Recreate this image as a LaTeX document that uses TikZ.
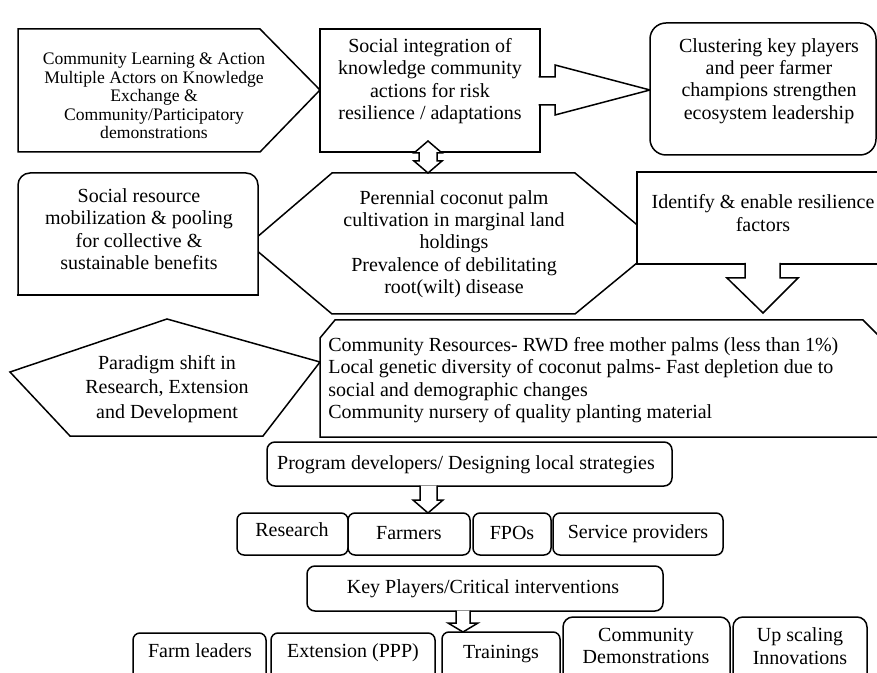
\documentclass[tikz,border=0pt]{standalone}
\usepackage{fontspec}
\setmainfont{Liberation Serif}
\usepackage{tikz}
\usetikzlibrary{calc}
\newcommand{\figtxt}{\fontsize{10}{11.2}\selectfont}
\newcommand{\figsml}{\fontsize{8.8}{9.2}\selectfont}
\tikzset{
  shp/.style ={draw, line width=0.75pt, fill=white, line join=miter},
  rbx/.style ={shp, rounded corners=4pt},
  blk/.style ={draw, line width=0.75pt, fill=white, line join=miter},
  txt/.style ={font=\figtxt, align=center, inner sep=0pt},
  one/.style ={font=\figtxt, inner sep=0pt, text height=7pt, text depth=2pt},
  txs/.style ={font=\figsml, align=center, inner sep=0pt},
}

\begin{document}
\begin{tikzpicture}[x=0.5pt, y=-0.5pt]
\useasboundingbox (0,0) rectangle (877,673);
\clip (0,0) rectangle (877,673);

% ---- top row --------------------------------------------------------
\draw[shp] (18,29) -- (260,29) -- (320,90) -- (260,152) -- (18,152) -- cycle;
\node[txs] (learn) at (154,96) {Community Learning \& Action\\Multiple Actors on Knowledge\\
  Exchange \&\\Community/Participatory\\demonstrations};

\draw[shp] (320,29) rectangle (540,152);
\node[txt] (integ) at (430,81) {Social integration of\\knowledge community\\
  actions for risk\\resilience / adaptations};
\draw[blk] (538.5,77) -- (555,77) -- (555,65) -- (650,90) -- (555,115) -- (555,105) -- (538.5,105);

\draw[rbx, rounded corners=8pt] (650,23) rectangle (876,155);
\node[txt] (clust) at (769,81) {Clustering key players\\and peer farmer\\
  champions strengthen\\ecosystem leadership};

% ---- middle row -----------------------------------------------------
\draw[shp] (249,244) -- (332,173) -- (575,173) -- (660,244) -- (575,314) -- (332,314) -- cycle;
\node[txt] (peren) at (454,244) {Perennial coconut palm\\cultivation in marginal land\\
  holdings\\Prevalence of debilitating\\root(wilt) disease};

\draw[shp, rounded corners=6pt] (18,295) -- (18,173) -- (258,173) -- (258,295);
\draw[line width=0.75pt, line cap=rect] (18,295) -- (258,295);
\node[txt] (socres) at (139,229) {Social resource\\mobilization \& pooling\\
  for collective \&\\sustainable benefits};

\draw[shp] (637,172) rectangle (890,264);
\node[txt] (ident) at (763,213) {Identify \& enable resilience\\factors};
\draw[blk] (745,263) -- (745,278) -- (727,278) -- (763,313) -- (798,278) -- (780,278) -- (780,263);

% up/down link between the two central boxes
\draw[blk] (428,141) -- (442,153) -- (437,153) -- (437,161) -- (442,161) -- (428,173)
  -- (414,161) -- (419,161) -- (419,153) -- (414,153) -- cycle;

% ---- resources and paradigm -----------------------------------------
\draw[shp] (167,319) -- (320,362) -- (263,436) -- (70,436) -- (10,372) -- cycle;
\node[txt] (parad) at (167,389) {Paradigm shift in\\[1pt]Research, Extension\\[1pt]and Development};

\draw[shp] (320,437) -- (320,338) -- (335,320) -- (863,320) -- (880,337) -- (880,437) -- cycle;
\node[txt, align=left, anchor=west] (commres) at (328,380)
  {Community Resources- RWD free mother palms (less than 1\%)\\
   Local genetic diversity of coconut palms- Fast depletion due to\\
   social and demographic changes\\
   Community nursery of quality planting material};

% ---- programme layer ------------------------------------------------
\draw[rbx] (267,442) rectangle (672,486);
\node[one] (prog) at (466,464) {Program developers/ Designing local strategies};

\draw[rbx, rounded corners=3.5pt] (237,513) rectangle (348,555);
\draw[rbx, rounded corners=3.5pt] (348,513) rectangle (470,555);
\draw[rbx, rounded corners=3.5pt] (473,513) rectangle (551,555);
\draw[rbx, rounded corners=3.5pt] (553,513) rectangle (723,555);
\node[one] (research) at (292,531) {Research};
\node[one] (farmers)  at (409,534) {Farmers};
\node[one] (fpos)     at (512,534) {FPOs};
\node[one] (servp)    at (638,533) {Service providers};
\draw[blk] (420,485.5) -- (420,500) -- (413,500) -- (428,513) -- (443,500) -- (437,500) -- (437,485.5);

% ---- key players layer ----------------------------------------------
\draw[rbx] (307,566) rectangle (663,611);
\node[one] (keyp) at (483,588) {Key Players/Critical interventions};

\draw[rbx, rounded corners=3.5pt] (133,633) rectangle (266,690);
\draw[rbx, rounded corners=3.5pt] (271,633) rectangle (435,690);
\draw[rbx, rounded corners=3.5pt] (442,632) rectangle (560,690);
\draw[rbx, rounded corners=5pt]   (563,617) rectangle (730,690);
\draw[rbx, rounded corners=5pt]   (733,617) rectangle (867,690);
\node[one] (farml)  at (200,652) {Farm leaders};
\node[one] (extn)   at (353,652) {Extension (PPP)};
\node[one] (train)  at (501,653) {Trainings};
\node[txt] (comdem) at (646,646) {Community\\Demonstrations};
\node[txt] (upsc)   at (800,646) {Up scaling\\Innovations};
\draw[blk] (456,610.5) -- (456,623) -- (448,623) -- (463,632) -- (478,623) -- (470,623) -- (470,610.5);
\end{tikzpicture}
\end{document}
